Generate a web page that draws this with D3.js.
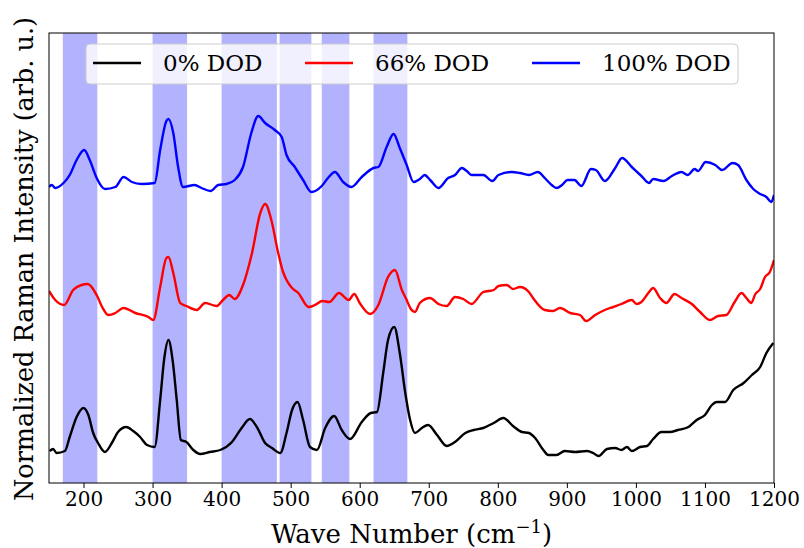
<!DOCTYPE html>
<html>
<head>
<meta charset="utf-8">
<script src="https://cdn.jsdelivr.net/npm/d3@7"></script>
<style>
  body { margin: 0; background: #fff; }
  svg { font-family: 'DejaVu Serif', serif; }
</style>
</head>
<body>
<svg></svg>
<script>
// wave numbers (cm-1) and intensities, one pair of arrays per trace
var wave0 = [151,156,161,173,180,190,200,207,214,221,231,241,250,262,272,282,292,303,311,317,323,329,335,341,349,359,369,383,398,415,429,441,451,463,473,485,494,502,510,518,528,538,550,563,574,586,603,616,625,634,641,650,658,666,673,680,690,699,712,726,738,753,765,779,794,808,822,835,845,854,866,873,885,897,912,929,938,946,958,970,979,987,994,1006,1016,1025,1037,1049,1061,1076,1088,1100,1110,1117,1129,1141,1156,1168,1180,1189,1199];
var int0 = [0.32,0.34,0.30,0.32,0.46,0.66,0.75,0.68,0.50,0.40,0.31,0.40,0.51,0.56,0.52,0.46,0.38,0.36,0.83,1.25,1.43,1.23,0.83,0.43,0.41,0.33,0.29,0.31,0.33,0.41,0.55,0.64,0.56,0.40,0.35,0.30,0.50,0.73,0.81,0.63,0.36,0.33,0.55,0.67,0.53,0.44,0.61,0.70,0.71,1.10,1.43,1.56,1.30,0.90,0.63,0.50,0.55,0.58,0.48,0.37,0.41,0.50,0.53,0.55,0.60,0.65,0.57,0.51,0.50,0.45,0.33,0.28,0.28,0.32,0.31,0.32,0.30,0.27,0.34,0.35,0.33,0.36,0.32,0.36,0.37,0.44,0.51,0.51,0.53,0.56,0.63,0.68,0.78,0.81,0.81,0.93,1.00,1.08,1.16,1.30,1.40];

var wave66 = [150,159,172,185,197,206,219,227,236,246,258,275,294,301,311,320,323,330,340,349,364,376,393,402,411,419,431,444,456,463,472,481,489,494,502,511,526,535,546,556,570,584,592,600,615,627,641,651,661,668,674,680,687,702,714,726,738,750,762,779,794,801,813,822,832,845,851,868,880,890,905,919,928,941,955,967,979,994,1001,1008,1018,1025,1035,1044,1056,1066,1081,1093,1107,1119,1131,1143,1153,1160,1167,1173,1180,1187,1194,1200];
var int66 = [1.92,1.83,1.78,1.93,1.98,1.99,1.88,1.76,1.68,1.70,1.75,1.70,1.66,1.63,1.96,2.25,2.26,2.10,1.80,1.77,1.73,1.80,1.77,1.83,1.88,1.84,1.98,2.30,2.70,2.79,2.63,2.33,2.11,2.03,1.95,1.90,1.76,1.78,1.82,1.81,1.90,1.83,1.89,1.80,1.69,1.78,2.06,2.13,1.93,1.83,1.74,1.71,1.80,1.85,1.79,1.77,1.86,1.84,1.79,1.91,1.93,1.97,1.98,1.94,1.96,1.91,1.85,1.73,1.72,1.75,1.70,1.68,1.62,1.68,1.73,1.76,1.79,1.83,1.79,1.81,1.90,1.95,1.85,1.80,1.89,1.85,1.79,1.71,1.63,1.67,1.68,1.81,1.90,1.85,1.80,1.89,1.94,2.06,2.11,2.23];

var wave100 = [150,154,159,171,180,190,201,209,219,231,246,258,270,284,303,311,320,323,330,337,344,361,371,384,395,407,419,431,443,453,463,477,487,494,506,518,530,545,554,564,576,588,603,620,627,639,649,658,668,678,687,694,702,714,728,738,748,755,762,779,792,801,820,832,845,858,868,878,885,893,901,911,921,935,942,955,970,980,994,1008,1019,1025,1040,1052,1066,1075,1085,1090,1101,1115,1125,1140,1148,1160,1170,1180,1189,1196,1200];
var int100 = [2.96,2.98,2.95,3.00,3.08,3.23,3.33,3.23,3.05,2.94,2.96,3.06,3.01,2.99,3.00,3.33,3.62,3.64,3.50,3.16,2.96,2.98,2.95,2.92,2.98,2.99,3.03,3.16,3.50,3.67,3.60,3.53,3.46,3.28,3.16,3.03,2.91,2.97,3.05,3.11,3.01,2.96,3.06,3.15,3.16,3.36,3.49,3.35,3.18,3.01,3.04,3.08,3.03,2.95,3.05,3.08,3.15,3.12,3.08,3.08,3.02,3.08,3.11,3.10,3.08,3.11,3.05,2.98,2.95,2.98,3.03,3.03,2.97,3.14,3.13,3.02,3.15,3.25,3.16,3.07,3.00,3.04,3.02,3.07,3.11,3.08,3.14,3.12,3.21,3.18,3.13,3.20,3.18,3.03,2.94,2.89,2.86,2.81,2.88];

var seriesNames = ['0% DOD', '66% DOD', '100% DOD'];
var seriesColors = ['black', 'red', 'blue'];

// shaded peak regions
var bandStart = [170, 300, 400, 484, 545, 620];
var bandEnd = [220, 350, 480, 530, 585, 669];

var xTicks = [200, 300, 400, 500, 600, 700, 800, 900, 1000, 1100, 1200];

var width = 804;
var height = 548;
var plotLeft = 49, plotRight = 774, plotTop = 33, plotBottom = 483;

var svg = d3.select('svg')
    .attr('width', width)
    .attr('height', height);

var xScale = d3.scaleLinear()
    .domain([150, 1200])
    .range([plotLeft, plotRight]);

var yScale = d3.scaleLinear()
    .domain([0, 4.5])
    .range([plotBottom, plotTop]);

svg.append('defs').append('clipPath')
    .attr('id', 'plot-clip')
    .append('rect')
    .attr('x', plotLeft)
    .attr('y', plotTop)
    .attr('width', plotRight - plotLeft)
    .attr('height', plotBottom - plotTop);

// bands
svg.append('g')
    .selectAll('rect')
    .data(bandStart)
    .enter()
    .append('rect')
    .attr('x', (d) => xScale(d))
    .attr('y', plotTop)
    .attr('width', (d, i) => xScale(bandEnd[i]) - xScale(d))
    .attr('height', plotBottom - plotTop)
    .attr('fill', '#b2b2ff');

// traces
var series = [
    wave0.map((w, i) => [w, int0[i]]),
    wave66.map((w, i) => [w, int66[i]]),
    wave100.map((w, i) => [w, int100[i]])
];

var line = d3.line()
    .x((d) => xScale(d[0]))
    .y((d) => yScale(d[1]))
    .curve(d3.curveMonotoneX);

svg.append('g')
    .attr('clip-path', 'url(#plot-clip)')
    .selectAll('path')
    .data(series)
    .enter()
    .append('path')
    .attr('d', line)
    .attr('fill', 'none')
    .attr('stroke', (d, i) => seriesColors[i])
    .attr('stroke-width', 2.4)
    .attr('stroke-linejoin', 'round');

// x axis
var xAxis = d3.axisBottom(xScale)
    .tickValues(xTicks)
    .tickSize(5)
    .tickPadding(4)
    .tickFormat(d3.format('d'));

var gx = svg.append('g')
    .attr('transform', 'translate(0,' + plotBottom + ')')
    .call(xAxis);
gx.select('.domain').remove();
gx.selectAll('line').attr('stroke', 'black').attr('stroke-width', 1);
gx.selectAll('text')
    .attr('font-family', 'DejaVu Serif')
    .attr('font-size', 20)
    .attr('fill', 'black');

// frame
svg.append('rect')
    .attr('x', plotLeft)
    .attr('y', plotTop)
    .attr('width', plotRight - plotLeft)
    .attr('height', plotBottom - plotTop)
    .attr('fill', 'none')
    .attr('stroke', 'black')
    .attr('stroke-width', 1);

// axis labels
var xLabel = svg.append('text')
    .attr('x', (plotLeft + plotRight) / 2)
    .attr('y', 543)
    .attr('text-anchor', 'middle')
    .attr('font-size', 26);
xLabel.append('tspan').text('Wave Number (cm');
xLabel.append('tspan').attr('dy', -10).attr('font-size', 18).text('\u22121');
xLabel.append('tspan').attr('dy', 10).text(')');

svg.append('text')
    .attr('transform', 'translate(33,259) rotate(-90)')
    .attr('text-anchor', 'middle')
    .attr('font-size', 25.5)
    .text('Normalized Raman Intensity (arb. u.)');

// legend
var legend = svg.append('g');
legend.append('rect')
    .attr('x', 86)
    .attr('y', 44)
    .attr('width', 652)
    .attr('height', 40)
    .attr('rx', 4)
    .attr('fill', 'white')
    .attr('fill-opacity', 0.8)
    .attr('stroke', '#cccccc')
    .attr('stroke-width', 1);

var legendX = [93, 305, 532];
var item = legend.selectAll('.item')
    .data(seriesNames)
    .enter()
    .append('g')
    .attr('class', 'item')
    .attr('transform', (d, i) => 'translate(' + legendX[i] + ',63)');

item.append('line')
    .attr('x1', 0)
    .attr('x2', 48)
    .attr('stroke', (d, i) => seriesColors[i])
    .attr('stroke-width', 2.4);

item.append('text')
    .attr('x', 70)
    .attr('y', 8)
    .attr('font-size', 23)
    .text((d) => d);
</script>
</body>
</html>
